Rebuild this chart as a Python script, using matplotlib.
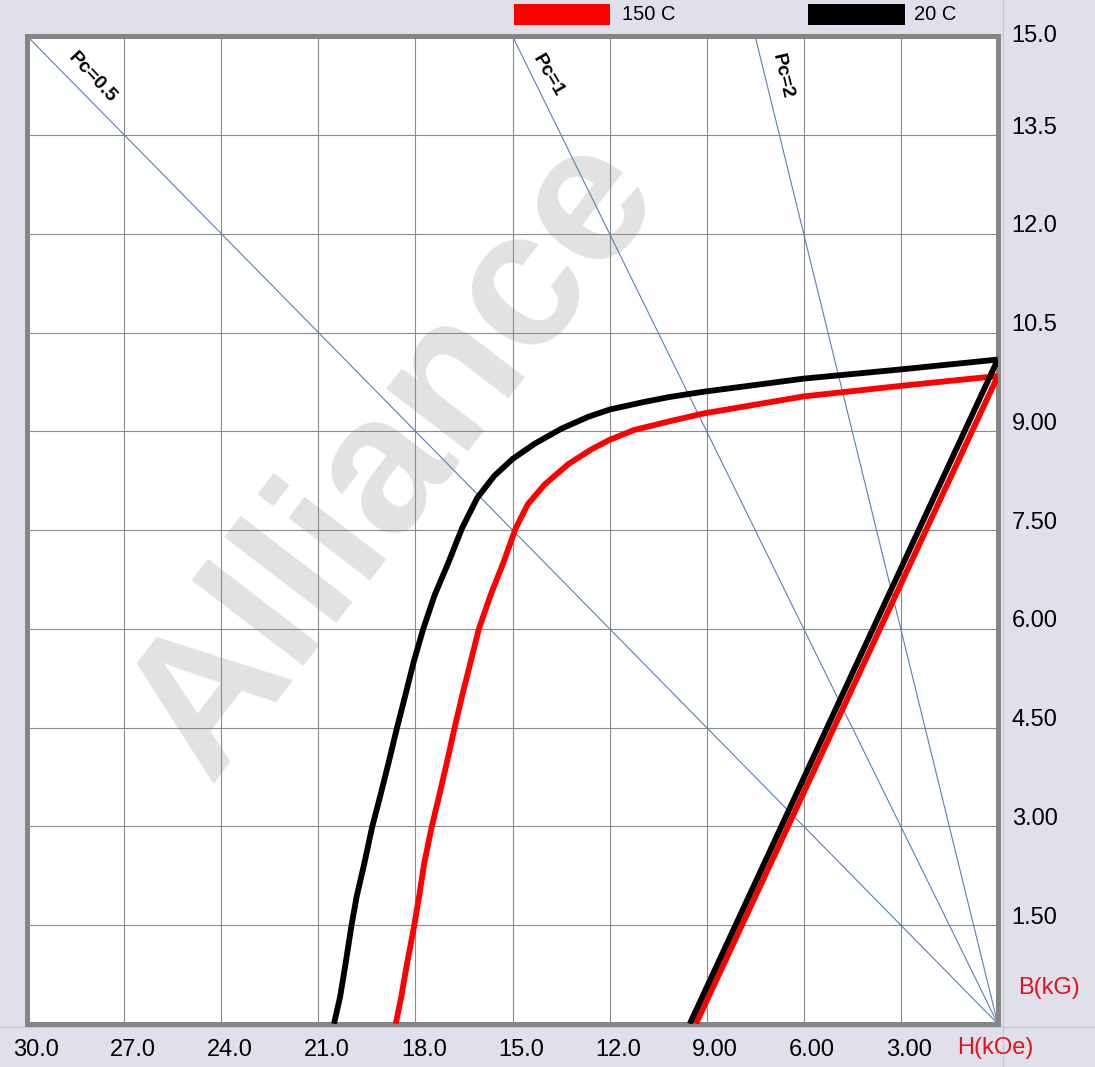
import matplotlib
matplotlib.use("Agg")
import matplotlib.pyplot as plt
import matplotlib.transforms as mtransforms
from matplotlib.patches import Rectangle
from matplotlib.lines import Line2D

plt.rcParams["font.family"] = ["Liberation Sans", "DejaVu Sans"]

# ---- Data ---------------------------------------------------------------------
H_TICKS = [30, 27, 24, 21, 18, 15, 12, 9, 6, 3]
H_TICK_LABELS = ["30.0", "27.0", "24.0", "21.0", "18.0", "15.0", "12.0",
                 "9.00", "6.00", "3.00"]
B_TICKS = [15, 13.5, 12, 10.5, 9, 7.5, 6, 4.5, 3, 1.5]
B_TICK_LABELS = ["15.0", "13.5", "12.0", "10.5", "9.00", "7.50", "6.00",
                 "4.50", "3.00", "1.50"]

PC_VALUES = [0.5, 1, 2]
PC_LABELS = ["Pc=0.5", "Pc=1", "Pc=2"]

# 20 C intrinsic curve (H in kOe, B in kG)
H_20_J = [0, 3, 6, 9.11, 10.16, 10.99, 12.0, 12.66, 13.49, 14.32, 15.0, 15.57,
          16.09, 16.56, 16.98, 17.41, 17.76, 18.06, 18.32, 18.57, 18.83, 19.09,
          19.34, 19.58, 19.82, 19.98, 20.16, 20.33, 20.52]
B_20_J = [10.09, 9.94, 9.80, 9.60, 9.52, 9.44, 9.33, 9.22, 9.04, 8.81, 8.58,
          8.32, 7.99, 7.53, 7.01, 6.51, 6.0, 5.49, 4.98, 4.5, 3.97, 3.46, 2.99,
          2.44, 1.93, 1.49, 0.92, 0.41, 0.0]
# 150 C intrinsic curve
H_150_J = [0, 3, 6, 9.11, 10.16, 11.24, 12.0, 12.55, 13.28, 14.01, 14.53, 14.90,
           15.28, 15.68, 16.04, 16.30, 16.56, 16.79, 17.03, 17.27, 17.5, 17.73,
           17.89, 18.04, 18.26, 18.44, 18.61]
B_150_J = [9.84, 9.69, 9.53, 9.27, 9.15, 9.02, 8.87, 8.73, 8.50, 8.19, 7.89,
           7.53, 7.01, 6.51, 6.0, 5.49, 4.98, 4.5, 3.97, 3.46, 2.99, 2.44, 1.93,
           1.49, 0.92, 0.41, 0.0]
# normal curves
H_20_N = [0, 9.52]
B_20_N = [10.09, 0.0]
H_150_N = [0, 9.33]
B_150_N = [9.84, 0.0]

# ---- Style --------------------------------------------------------------------
BG = "#dfe0ea"
GRID = "#8a8a8a"
FRAME = "#858585"
PC_COLOR = "#5580bb"
RED = "#ff0000"
LABEL_RED = "#e8101a"
W, H = 1095, 1067

fig = plt.figure(figsize=(W / 100, H / 100), dpi=100, facecolor=BG)
ax = fig.add_axes([27.3 / W, (H - 1023.8) / H, 970.5 / W, 987.5 / H])
ax.set_xlim(30, 0)
ax.set_ylim(0, 15)

# faint panel separators
fig.add_artist(Line2D([1003 / W, 1003 / W], [0, 1], transform=fig.transFigure,
                      color="#c6c7d1", lw=0.8, zorder=-5))
fig.add_artist(Line2D([0, 1], [(H - 1027) / H, (H - 1027) / H],
                      transform=fig.transFigure, color="#c6c7d1", lw=0.8,
                      zorder=-5))

# watermark
ax.text(0.187, 0.243, "Alliance", transform=ax.transAxes, fontsize=140,
        fontweight="bold", color="#e2e2e2", rotation=52.5, ha="left",
        va="baseline", rotation_mode="anchor", zorder=0.2)

ax.set_axisbelow(True)
ax.grid(True, color=GRID, lw=0.8)
ax.set_xticks(H_TICKS)
ax.set_xticklabels(H_TICK_LABELS)
ax.set_yticks(B_TICKS)
ax.set_yticklabels(B_TICK_LABELS)
ax.yaxis.tick_right()
ax.tick_params(axis="both", length=0, labelsize=17, colors="black")
ax.tick_params(axis="x", pad=11)
ax.tick_params(axis="y", pad=10)
for s in ax.spines.values():
    s.set_color(FRAME)
    s.set_linewidth(3.6)

dx = mtransforms.ScaledTranslation(0.085, 0, fig.dpi_scale_trans)
for lab in ax.get_xticklabels():
    lab.set_transform(lab.get_transform() + dx)
for lab in ax.get_yticklabels():
    up = 0.03 if lab.get_text() == "15.0" else 0.10
    lab.set_transform(lab.get_transform()
                      + mtransforms.ScaledTranslation(0, up, fig.dpi_scale_trans))

# load lines
PC_LABEL_H = [28.0, 13.9, 6.67]
PC_LABEL_B = [14.37, 14.41, 14.40]
PC_LABEL_ROT = [-47, -60, -77]
for pc, lbl, lh, lb, rot in zip(PC_VALUES, PC_LABELS, PC_LABEL_H, PC_LABEL_B,
                                PC_LABEL_ROT):
    h_end = min(30, 15 / pc)
    ax.plot([0, h_end], [0, pc * h_end], color=PC_COLOR, lw=0.8, zorder=1)
    ax.text(lh, lb, lbl, rotation=rot, ha="center", va="center",
            fontsize=14, fontweight="bold", color="black", zorder=3)

# curves
kw = dict(lw=4.2, solid_capstyle="butt", solid_joinstyle="round")
ax.plot(H_150_J, B_150_J, color=RED, zorder=4, **kw)
ax.plot(H_150_N, B_150_N, color=RED, zorder=4, **kw)
ax.plot(H_20_J, B_20_J, color="black", zorder=5, **kw)
ax.plot(H_20_N, B_20_N, color="black", zorder=5, **kw)

# axis names
fig.text(995 / W, 1 - 1048 / H, "H(kOe)", color=LABEL_RED, fontsize=17,
         ha="center", va="center")
fig.text(1018 / W, 1 - 988 / H, "B(kG)", color=LABEL_RED, fontsize=17,
         ha="left", va="center")

# legend
fig.add_artist(Rectangle((514 / W, 1 - 25 / H), 96 / W, 21 / H,
                         transform=fig.transFigure, facecolor=RED,
                         edgecolor="none"))
fig.text(622 / W, 1 - 14 / H, "150 C", fontsize=14.5, ha="left", va="center")
fig.add_artist(Rectangle((808 / W, 1 - 25 / H), 97 / W, 21 / H,
                         transform=fig.transFigure, facecolor="black",
                         edgecolor="none"))
fig.text(914 / W, 1 - 14 / H, "20 C", fontsize=14.5, ha="left", va="center")

fig.savefig("out.png", dpi=100, facecolor=BG)
